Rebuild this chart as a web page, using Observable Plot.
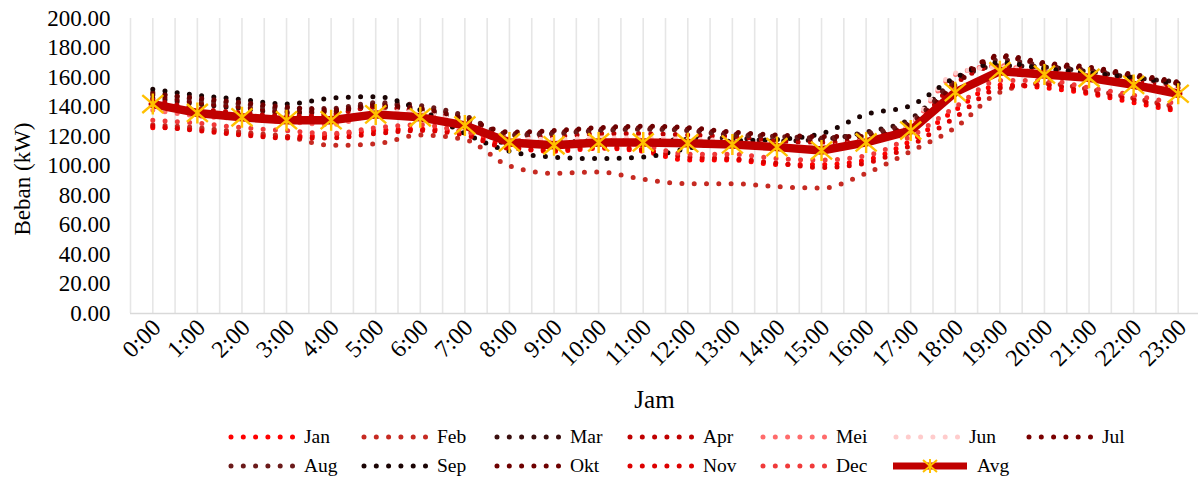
<!DOCTYPE html>
<html>
<head>
<meta charset="utf-8">
<script src="https://cdn.jsdelivr.net/npm/d3@7"></script>
<script src="https://cdn.jsdelivr.net/npm/@observablehq/plot@0.6"></script>
<style>
  html, body { margin: 0; padding: 0; background: #fff; }
  body { width: 1198px; height: 477px; overflow: hidden; font-family: "Liberation Serif", "Times New Roman", Times, serif; }
  #legend { display: flex; flex-wrap: wrap; width: 940px; padding-left: 228px; margin-top: 2px; }
  .item { width: 133px; height: 29px; display: flex; align-items: center; font-size: 19.5px; color: #000; }
  .item svg { margin-right: 8px; flex: none; }
</style>
</head>
<body>
<div id="chart"></div>
<div id="legend"></div>
<script>
// ---- Data ----
const hourLabels = ["0:00","1:00","2:00","3:00","4:00","5:00","6:00","7:00","8:00","9:00","10:00","11:00",
  "12:00","13:00","14:00","15:00","16:00","17:00","18:00","19:00","20:00","21:00","22:00","23:00"];
const months = ["Jan","Feb","Mar","Apr","Mei","Jun","Jul","Aug","Sep","Okt","Nov","Dec"];
const monthColors = ["#FF0000","#C62A22","#3B0F0F","#C00000","#FF6B6B","#FFCCCC","#7A0000","#6B1A1A","#1A0404","#6E0000","#DD0000","#F03A3A"];

const jan = [126,125,122,120,121,124,125,122,113,110,112,110,104,104,101,101,104,117,138,155,153,149,143,137];
const feb = [128,126,123,120,114,115,121,118,100,95,96,91,88,88,86,85,95,110,126,150,156,152,146,140];
const mar = [146,142,139,136,137,140,138,130,115,116,117,117,118,119,117,118,123,132,158,168,167,164,160,157];
const apr = [145,139,136,134,135,140,137,131,120,120,122,122,121,120,117,116,118,126,156,168,166,162,158,153];
const mei = [138,134,132,130,128,135,136,128,118,117,118,118,117,116,113,112,117,128,162,168,162,160,156,150];
const jun = [140,136,133,131,130,136,137,129,119,118,119,119,118,117,114,113,118,129,163,167,163,161,157,151];
const jul = [148,143,140,137,137,142,140,133,122,123,125,126,125,122,120,118,121,129,158,174,169,166,161,156];
const aug = [150,145,142,139,139,143,141,134,121,122,124,125,124,121,120,119,122,130,157,172,168,165,160,155];
const sep = [152,148,145,142,146,147,138,122,110,106,105,106,112,117,118,122,135,141,160,170,166,163,160,156];
const okt = [149,146,143,140,138,141,139,132,123,124,126,127,126,123,121,120,120,128,155,175,170,167,162,157];
const nov = [127,124,121,119,119,122,124,121,112,111,113,111,106,105,102,99,102,114,133,153,155,150,145,138];
const dec = [131,129,126,124,122,126,128,123,118,115,117,114,108,108,105,104,107,120,140,158,158,153,148,142];
const avg = [142,136,133,131,131,135,133,127.5,116,114,116,116,115.5,114.6,112.8,110.5,116,124,150,164.3,162,159.8,155,149];

const yTicks = [0,20,40,60,80,100,120,140,160,180,200];

// ---- Tables built from the arrays ----
const monthValues = [jan,feb,mar,apr,mei,jun,jul,aug,sep,okt,nov,dec];
const monthData = months.flatMap((m, i) => monthValues[i].map((v, h) => ({month: m, hour: h, value: v})));
const avgData = avg.map((v, h) => ({hour: h, value: v}));
const hours = hourLabels.map((_, i) => i);
const gridX = d3.range(-0.5, 23.01, 0.5);

// Excel-like "star" marker: an X with a vertical bar
const excelStar = {
  draw(ctx, size) {
    const r = Math.sqrt(size / Math.PI);
    const k = 0.85;
    ctx.moveTo(-r, -r * k); ctx.lineTo(r, r * k);
    ctx.moveTo(-r, r * k); ctx.lineTo(r, -r * k);
    ctx.moveTo(0, -r); ctx.lineTo(0, r);
  }
};

const chart = Plot.plot({
  width: 1198,
  height: 420,
  marginTop: 18,
  marginBottom: 107,
  marginLeft: 130,
  marginRight: 0,
  style: {fontFamily: "'Liberation Serif', 'Times New Roman', Times, serif", fontSize: "22px", color: "#000", background: "#fff", overflow: "visible"},
  x: {domain: [-0.5, 23.5], range: [130, 1200]},
  y: {domain: [0, 200]},
  color: {domain: months, range: monthColors},
  marks: [
    Plot.ruleX(gridX, {stroke: "#e6e6e6", strokeWidth: 1.6}),
    Plot.ruleY([0], {stroke: "#d9d9d9", strokeWidth: 1.6}),
    Plot.axisY({ticks: yTicks, tickFormat: d3.format(".2f"), tickSize: 0, tickPadding: 20, label: null, fontSize: 23}),
    Plot.axisX({ticks: hours, tickFormat: i => hourLabels[i], tickSize: 0, tickPadding: 10, tickRotate: -45, label: null, fontSize: 24, dx: 4}),
    Plot.text(["Beban (kW)"], {frameAnchor: "left", textAnchor: "middle", lineAnchor: "middle", rotate: -90, dx: -108, dy: 13, fontSize: 23}),
    Plot.text(["Jam"], {frameAnchor: "bottom", textAnchor: "middle", dy: 94, dx: -10, fontSize: 25}),
    Plot.lineY(monthData, {x: "hour", y: "value", z: "month", stroke: "month", strokeWidth: 5,
      strokeDasharray: "0 12.3", strokeLinecap: "round", curve: "monotone-x"}),
    Plot.lineY(avgData, {x: "hour", y: "value", stroke: "#C00000", strokeWidth: 8.5, strokeLinejoin: "round"}),
    Plot.dot(avgData, {x: "hour", y: "value", symbol: excelStar, r: 10.5, stroke: "#FFC000", strokeWidth: 2.4, fill: "none"})
  ]
});
document.getElementById("chart").appendChild(chart);

// ---- Legend ----
const legendOrder = ["Jan","Feb","Mar","Apr","Mei","Jun","Jul","Aug","Sep","Okt","Nov","Dec","Avg"];
const legend = d3.select("#legend");
for (const name of legendOrder) {
  const item = legend.append("div").attr("class", "item");
  const svg = item.append("svg").attr("width", 68).attr("height", 14);
  if (name === "Avg") {
    svg.attr("width", 76);
    svg.append("line").attr("x1", 0).attr("x2", 74).attr("y1", 7).attr("y2", 7)
      .attr("stroke", "#C00000").attr("stroke-width", 7);
    const r = 7, k = 0.85;
    svg.append("path").attr("transform", "translate(37,7)")
      .attr("d", `M${-r},${-r*k}L${r},${r*k}M${-r},${r*k}L${r},${-r*k}M0,${-r}L0,${r}`)
      .attr("stroke", "#FFC000").attr("stroke-width", 2).attr("fill", "none");
  } else {
    const c = monthColors[months.indexOf(name)];
    svg.append("line").attr("x1", 3).attr("x2", 65).attr("y1", 7).attr("y2", 7)
      .attr("stroke", c).attr("stroke-width", 5).attr("stroke-linecap", "round")
      .attr("stroke-dasharray", "0 12.3");
  }
  item.append("span").text(name);
}
</script>
</body>
</html>
